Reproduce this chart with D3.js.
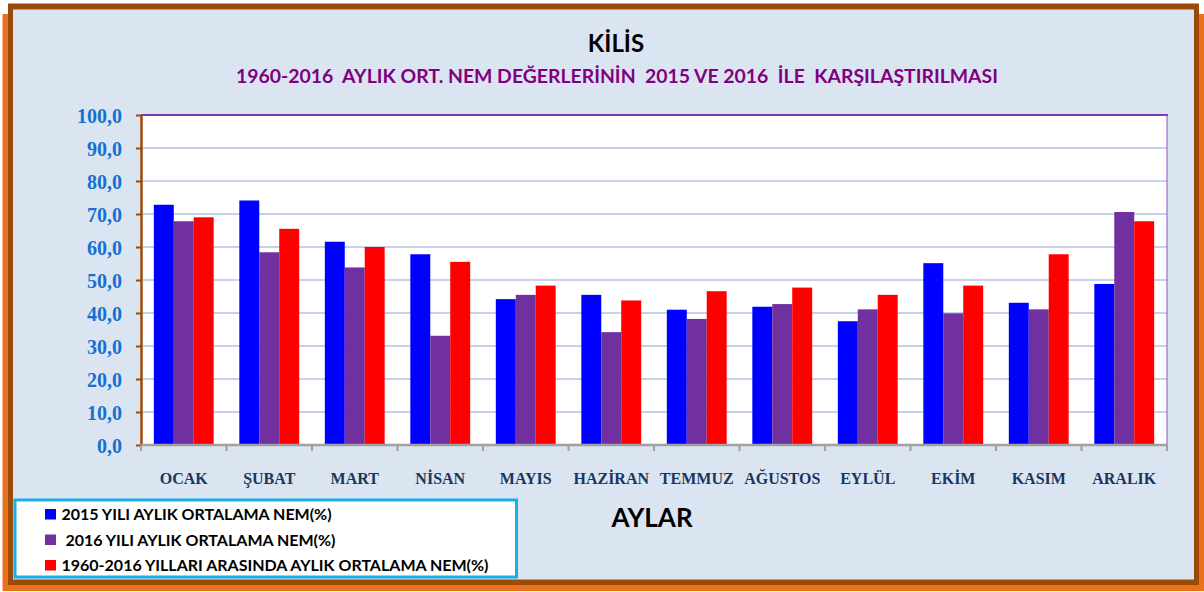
<!DOCTYPE html>
<html>
<head>
<meta charset="utf-8">
<script src="https://cdn.jsdelivr.net/npm/d3@7"></script>
<style>
  body { margin: 0; background: #fff; }
  svg { display: block; }
</style>
</head>
<body>
<svg id="chart" width="1204" height="592"></svg>
<script>
/* ── data ─────────────────────────────────────────────────────────────── */

const MONTHS = ["OCAK", "ŞUBAT", "MART", "NİSAN", "MAYIS", "HAZİRAN",
  "TEMMUZ", "AĞUSTOS", "EYLÜL", "EKİM", "KASIM", "ARALIK"];
const NEM_2015 = [72.8, 74.1, 61.6, 57.8, 44.2, 45.5, 41.0, 41.9, 37.5, 55.1, 43.1, 48.8];
const NEM_2016 = [67.8, 58.4, 53.8, 33.1, 45.5, 34.2, 38.2, 42.7, 41.1, 39.9, 41.1, 70.6];
const NEM_ORT = [69.0, 65.5, 60.0, 55.5, 48.3, 43.8, 46.6, 47.7, 45.5, 48.3, 57.8, 67.8];
const SERIES_LABELS = [
  "2015 YILI AYLIK ORTALAMA NEM(%)",
  " 2016 YILI AYLIK ORTALAMA NEM(%)",
  "1960-2016 YILLARI ARASINDA AYLIK ORTALAMA NEM(%)",
];
const SERIES_COLORS = ["#0000ff", "#7030a0", "#ff0000"];
const Y_TICKS = [0, 10, 20, 30, 40, 50, 60, 70, 80, 90, 100];

const series = [NEM_2015, NEM_2016, NEM_ORT].map((values, i) => ({
  key: "s" + i,
  label: SERIES_LABELS[i],
  color: SERIES_COLORS[i],
  values,
}));

/* ── frame ────────────────────────────────────────────────────────────── */

const svg = d3.select("#chart");

svg.append("rect") // orange shadow
  .attr("x", 2.5).attr("y", 14).attr("width", 1201.5).attr("height", 577)
  .attr("fill", "#e8731c");
svg.append("rect") // brown border
  .attr("x", 8).attr("y", 3.5).attr("width", 1191).attr("height", 581.5)
  .attr("fill", "#9c4a07");
svg.append("rect") // chart background
  .attr("x", 13).attr("y", 9.5).attr("width", 1181).attr("height", 570)
  .attr("fill", "#dbe5f1");

/* ── titles ───────────────────────────────────────────────────────────── */

svg.append("text")
  .attr("x", 616).attr("y", 52)
  .attr("text-anchor", "middle")
  .attr("font-family", "Lato, 'Open Sans', sans-serif")
  .attr("font-weight", 700).attr("font-size", 24)
  .attr("fill", "#000")
  .text("KİLİS");

svg.append("text")
  .attr("x", 617).attr("y", 82.5)
  .attr("text-anchor", "middle")
  .attr("font-family", "Lato, 'Open Sans', sans-serif")
  .attr("font-weight", 700).attr("font-size", 19.5)
  .attr("fill", "#800080")
  .attr("textLength", 762)
  .attr("lengthAdjust", "spacingAndGlyphs")
  .style("white-space", "pre")
  .text("1960-2016  AYLIK ORT. NEM DEĞERLERİNİN  2015 VE 2016  İLE  KARŞILAŞTIRILMASI");

/* ── plot ─────────────────────────────────────────────────────────────── */

const m = { left: 141, top: 115, right: 1167, bottom: 445 };
const W = m.right - m.left;
const H = m.bottom - m.top;

const g = svg.append("g").attr("transform", `translate(${m.left},${m.top})`);

const x0 = d3.scaleBand().domain(MONTHS).range([0, W])
  .paddingInner(0.3).paddingOuter(0.15);
const x1 = d3.scaleBand().domain(series.map((s) => s.key))
  .range([0, x0.bandwidth()]);
const y = d3.scaleLinear().domain([0, 100]).range([H, 0]);

g.append("rect")
  .attr("width", W).attr("height", H)
  .attr("fill", "#fff");

// Grid lines
g.append("g")
  .selectAll("line")
  .data(Y_TICKS.filter((d) => d > 0 && d < 100))
  .join("line")
  .attr("x1", 0).attr("x2", W)
  .attr("y1", (d) => y(d)).attr("y2", (d) => y(d))
  .attr("stroke", "#c5d2ea").attr("stroke-width", 2);

// Bars
const groups = g.append("g")
  .selectAll("g")
  .data(MONTHS)
  .join("g")
  .attr("transform", (d) => `translate(${x0(d)},0)`);

groups.selectAll("rect")
  .data((d, i) => series.map((s) => ({ key: s.key, color: s.color, val: s.values[i] })))
  .join("rect")
  .attr("x", (d) => x1(d.key))
  .attr("width", x1.bandwidth())
  .attr("y", (d) => y(d.val))
  .attr("height", (d) => H - y(d.val))
  .attr("fill", (d) => d.color);

// Plot border: purple top/right
g.append("line")
  .attr("x1", 0).attr("x2", W + 1).attr("y1", 0).attr("y2", 0)
  .attr("stroke", "#7a3cb0").attr("stroke-width", 2);
g.append("line")
  .attr("x1", W).attr("x2", W).attr("y1", 0).attr("y2", H)
  .attr("stroke", "#8a50c0").attr("stroke-width", 1);

// Y axis
const yAxis = g.append("g")
  .call(d3.axisLeft(y)
    .tickValues(Y_TICKS)
    .tickSize(5)
    .tickSizeOuter(0)
    .tickPadding(14)
    .tickFormat((d) => d3.format(".1f")(d).replace(".", ",")));
yAxis.select(".domain").attr("stroke", "#9c4a07").attr("stroke-width", 2.5);
yAxis.selectAll(".tick line").attr("stroke", "#9c4a07").attr("stroke-width", 2);
yAxis.selectAll(".tick text")
  .attr("font-family", "'Liberation Serif', 'Times New Roman', serif")
  .attr("font-weight", 700).attr("font-size", 20)
  .attr("fill", "#1570d0")
  .attr("dy", "0.36em");

// X axis: grey baseline with ticks at category boundaries
const halfGap = (x0.step() - x0.bandwidth()) / 2;
const bounds = MONTHS.map((d) => x0(d) - halfGap).concat([W]);

g.append("line")
  .attr("x1", 0).attr("x2", W).attr("y1", H).attr("y2", H)
  .attr("stroke", "#a0a0a0").attr("stroke-width", 2.5);
g.append("g")
  .selectAll("line")
  .data(bounds)
  .join("line")
  .attr("x1", (d) => d).attr("x2", (d) => d)
  .attr("y1", H).attr("y2", H + 6)
  .attr("stroke", "#a0a0a0").attr("stroke-width", 2);

g.append("g")
  .selectAll("text")
  .data(MONTHS)
  .join("text")
  .attr("x", (d) => x0(d) + x0.bandwidth() / 2)
  .attr("y", H + 38.5)
  .attr("text-anchor", "middle")
  .attr("font-family", "'Liberation Serif', 'Times New Roman', serif")
  .attr("font-weight", 700).attr("font-size", 16)
  .attr("fill", "#17375e")
  .text((d) => d);

svg.append("text")
  .attr("x", 652).attr("y", 527)
  .attr("text-anchor", "middle")
  .attr("font-family", "Lato, 'Open Sans', sans-serif")
  .attr("font-weight", 700).attr("font-size", 26)
  .attr("fill", "#000")
  .text("AYLAR");

/* ── legend ───────────────────────────────────────────────────────────── */

const legend = svg.append("g");
legend.append("rect")
  .attr("x", 15).attr("y", 500).attr("width", 501.5).attr("height", 77)
  .attr("fill", "#fff")
  .attr("stroke", "#18aee8").attr("stroke-width", 3);

const rows = legend.selectAll("g.row")
  .data(series)
  .join("g")
  .attr("class", "row")
  .attr("transform", (d, i) => `translate(45,${509 + i * 25.5})`);

rows.append("rect")
  .attr("width", 11).attr("height", 10.5)
  .attr("fill", (d) => d.color);

rows.append("text")
  .attr("x", 16.5).attr("y", 11)
  .attr("font-family", "Lato, 'Open Sans', sans-serif")
  .attr("font-weight", 700).attr("font-size", 16)
  .attr("fill", "#000")
  .style("white-space", "pre")
  .text((d) => d.label);
</script>
</body>
</html>
